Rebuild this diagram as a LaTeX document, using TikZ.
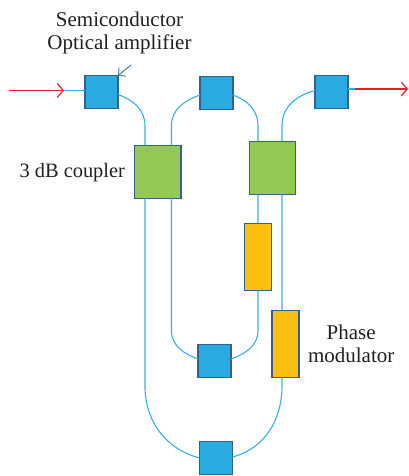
\documentclass[tikz,border=0pt]{standalone}
\usepackage{fontspec}
\setmainfont{Liberation Serif}
\usepackage[HTML]{xcolor}
\usetikzlibrary{positioning, arrows.meta}
\definecolor{soafill}{HTML}{29ABE2}
\definecolor{couplerfill}{HTML}{92C853}
\definecolor{modfill}{HTML}{FDC010}
\definecolor{boxline}{HTML}{34608F}
\definecolor{wireblue}{HTML}{35B0E6}
\definecolor{signalred}{HTML}{ED1C24}
\definecolor{pointerblue}{HTML}{4A7EBB}
\definecolor{labelink}{HTML}{231F20}

\begin{document}
\begin{tikzpicture}[
    x=1pt, y=1pt,
    node distance=30pt and 80pt,
    every node/.style={inner sep=0pt, outer sep=0pt},
    devbox/.style={draw=boxline, line width=1.1pt, minimum width=#1},
    soa/.style={devbox=33pt, fill=soafill, minimum height=33pt},
    coupler/.style={devbox=46.5pt, fill=couplerfill, minimum height=53pt},
    modulator/.style={devbox=27pt, fill=modfill, minimum height=67pt},
    wire/.style={draw=wireblue, line width=1.1pt},
    signal/.style={draw=signalred, line width=1.2pt, -{Straight Barb[length=6pt,width=14pt]}},
    caption/.style={text=labelink, align=center, font=\fontsize{21}{23}\selectfont}
]
    \useasboundingbox (0,0) rectangle (409,476);

    % 1. The devices, top row first
    \node (soaA) [soa] at (101.5,384) {};
    \node (soaB) [soa, right=82pt of soaA, yshift=-1pt] {};
    \node (soaC) [soa, right=82pt of soaB, yshift=1pt] {};
    % couplers hang below the top row
    \node (cplA) [coupler, below=37pt of soaA, xshift=56.2pt] {};
    \node (cplB) [coupler, below=33pt of soaC, xshift=-59pt] {};
    % modulators below the second coupler
    \node (pmA) [modulator, below=29pt of cplB, xshift=-14.5pt] {};
    \node (pmB) [modulator, below=116pt of cplB, xshift=13pt] {};
    % the two amplifiers of the loops
    \node (soaD) [soa, below=235pt of soaB, xshift=-2pt] {};
    \node (soaE) [soa, below=64pt of soaD, xshift=1.5pt] {};

    % free ends of the input and output lines
    \coordinate (inEnd) at (9,385.5);
    \coordinate (inTip) at (64,385.5);
    \coordinate (outTip) at (408,387);
    \coordinate (outStart) at (355,387);
    \coordinate (pointerEnd) at (131,411);

    % 2. The labels
    \node (lblSoa) [caption, above=22pt of soaA, xshift=18pt, anchor=south] {Semiconductor\\Optical amplifier};
    \node (lblCpl) [caption, font=\fontsize{20.4}{23}\selectfont, left=9.5pt of cplA, yshift=-0.5pt] {3 dB coupler};
    \node (lblPm) [caption, right=9pt of pmB, yshift=0.5pt] {Phase\\modulator};

    % 3. The wires
    \draw[wire] (inTip) -- (soaA.west |- inTip);
    \draw[wire] (soaC.east |- outStart) -- (outStart);

    % top bends into the couplers
    \draw[wire] ([yshift=-2.5pt]soaA.east) to[out=-20,in=90] ([xshift=10.5pt,yshift=20pt]cplA.north west) -- ([xshift=10.5pt]cplA.north west);
    \draw[wire] ([yshift=-2pt]soaB.west) to[out=200,in=90] ([xshift=37pt,yshift=20pt]cplA.north west) -- ([xshift=37pt]cplA.north west);
    \draw[wire] ([yshift=-2pt]soaB.east) to[out=-20,in=90] ([xshift=8.7pt,yshift=16pt]cplB.north west) -- ([xshift=8.7pt]cplB.north west);
    \draw[wire] ([yshift=1.5pt]soaC.west) to[out=195,in=90] ([xshift=32.7pt,yshift=16pt]cplB.north west) -- ([xshift=32.7pt]cplB.north west);

    % inner loop
    \draw[wire] ([xshift=37pt]cplA.south west) -- ([xshift=37pt,yshift=-132pt]cplA.south west) to[out=-90,in=160] ([yshift=2pt]soaD.west);
    \draw[wire] ([xshift=8.7pt]cplB.south west) -- (pmA.north);
    \draw[wire] (pmA.south) -- ([yshift=-40pt]pmA.south) to[out=-90,in=20] ([yshift=2pt]soaD.east);

    % outer loop
    \draw[wire] ([xshift=10.5pt]cplA.south west) -- ([xshift=10.5pt,yshift=-187pt]cplA.south west) to[out=-90,in=165] ([yshift=0pt]soaE.west);
    \draw[wire] ([xshift=32.7pt]cplB.south west) -- ([xshift=-3.5pt]pmB.north);
    \draw[wire] ([xshift=-3.5pt]pmB.south) -- ([xshift=-3.5pt,yshift=-8pt]pmB.south) to[out=-90,in=15] ([yshift=1pt]soaE.east);

    % 4. Signal arrows and the amplifier pointer
    \draw[signal] (inEnd) -- (inTip);
    \draw[signal] (outStart) -- (outTip);
    \draw[draw=pointerblue, line width=1pt, -{Straight Barb[length=5pt,width=11pt]}] (pointerEnd) -- (soaA.north east);

\end{tikzpicture}
\end{document}
